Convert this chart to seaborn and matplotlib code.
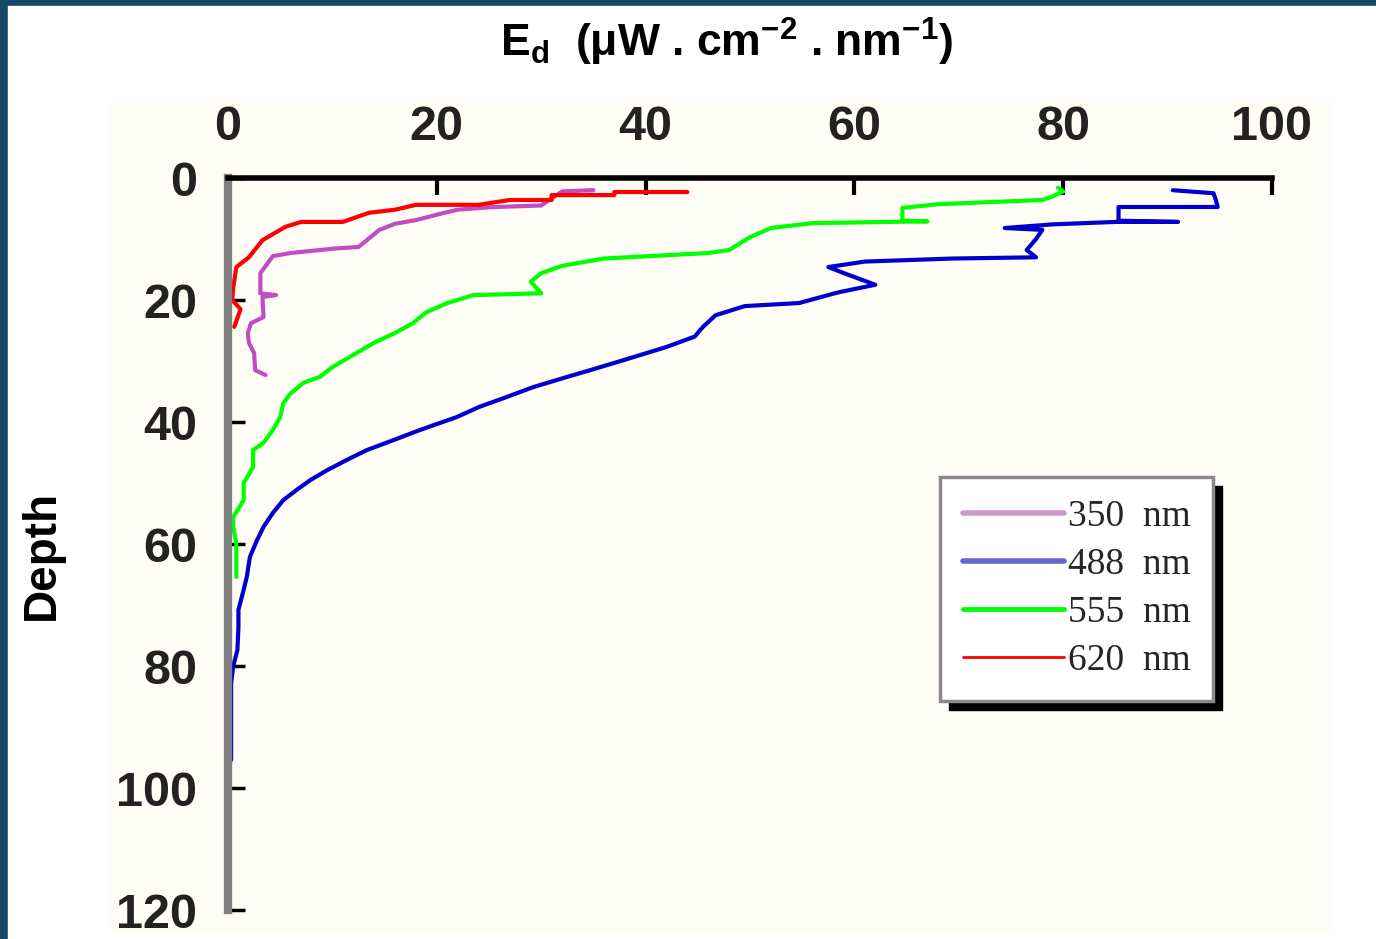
import numpy as np
import pandas as pd
import matplotlib
matplotlib.use("Agg")
import matplotlib.pyplot as plt
import seaborn as sns
from matplotlib.patches import Rectangle
from matplotlib.lines import Line2D

# values: Ed (uW cm-2 nm-1) against depth
ed_350 = [35, 32, 30, 25, 22, 20.5, 18, 16, 14.5, 13.3, 12.5, 10, 6, 4.3, 3.7, 3.1, 3.1, 4.6, 3.3, 3.4, 2.2, 1.9, 2.0, 2.5, 2.6, 3.6]
depth_350 = [2.0, 2.2, 4.5, 4.8, 5.2, 5.8, 6.9, 7.5, 8.5, 10.2, 11.3, 11.6, 12.3, 12.8, 14.2, 15.6, 18.9, 19.2, 19.5, 22.8, 23.8, 25.4, 27.0, 28.7, 31.5, 32.3]

ed_488 = [90.5, 94.4, 94.6, 94.8, 85.3, 85.3, 91, 85, 79, 74.4, 78, 77.4, 76.5, 77.4, 69.4, 61, 57.5, 59, 62, 58.6, 57.9,
          54.7, 49.5, 46.7, 45.5, 44.7, 42, 38, 34.7, 32.5, 29.2, 26.7, 24.1, 21.9, 18.4, 15.8, 13.3, 11.4, 9.5, 7.9,
          6.6, 5.3, 4.3, 3.4, 2.8, 2.1, 1.8, 1.5, 1.0, 1.0, 0.9, 0.5, 0.3, 0.3]
depth_488 = [2.0, 2.5, 3.5, 4.75, 4.75, 7.0, 7.2, 7.2, 7.6, 8.2, 8.5, 10, 11.8, 13, 13.2, 13.7, 14.6, 15.6, 17.5, 18.7, 19,
             20.5, 21, 22.5, 24.4, 26, 27.7, 29.8, 31.5, 32.6, 34.3, 35.9, 37.5, 39.2, 41.3, 43, 44.6, 46.2, 47.9, 49.5,
             51.1, 52.8, 54.9, 57.2, 59.3, 62.1, 65.4, 67.5, 70.8, 73.6, 77.4, 80, 82.8, 95.4]

ed_555 = [79.5, 80, 79, 78, 68, 64.6, 64.6, 67, 56, 52, 50, 48, 46, 36, 32, 30, 29, 30, 23.5, 21, 19, 17.7, 16, 14,
          12.3, 10, 8.8, 7.2, 6, 5.3, 5, 4.3, 3.4, 2.4, 2.4, 1.5, 1.5, 0.5, 0.5, 0.8, 0.8]
depth_555 = [1.6, 2.2, 3.0, 3.6, 4.3, 4.9, 7.0, 7.1, 7.4, 8.2, 9.7, 11.8, 12.3, 13.2, 14.4, 15.6, 17, 18.9, 19.2, 20.5,
             22, 23.8, 25.4, 27, 28.7, 31, 32.6, 33.6, 35.3, 36.9, 39.2, 41.3, 43.4, 44.6, 47.4, 50, 52.8, 55.6, 57.2,
             60, 65.4]

ed_620 = [44, 37, 37, 31, 31, 27, 24, 18, 16, 13.5, 11, 7, 5.5, 3.3, 2.0, 0.8, 0.5, 0.4, 1.2, 1.0, 0.6]
depth_620 = [2.3, 2.3, 2.8, 2.8, 3.6, 3.6, 4.4, 4.4, 5.2, 5.7, 7.2, 7.2, 8.0, 10.2, 13.0, 14.6, 18.0, 20.0, 21.5, 22.5, 24.4]

labels = ["350  nm", "488  nm", "555  nm", "620  nm"]
x_ticks = [0, 20, 40, 60, 80, 100]
y_ticks = [0, 20, 40, 60, 80, 100, 120]

series = [(ed_350, depth_350, "#c24cc2", "#cc99cc", 3.0, 4.0),
          (ed_488, depth_488, "#0000cc", "#6666cc", 3.0, 4.0),
          (ed_555, depth_555, "#00ff00", "#00ff00", 3.0, 3.5),
          (ed_620, depth_620, "#ff0000", "#ff0000", 3.0, 2.0)]

sns.set_style("white")
plt.rcParams['font.family'] = ['Liberation Sans', 'DejaVu Sans']
plt.rcParams['mathtext.default'] = 'regular'

fig = plt.figure(figsize=(13.76, 9.39), dpi=100)
W, H = 1376, 939

# slide background: dark teal frame, white page, pale cream panel
fig.patches.append(Rectangle((0, 0), 1, 1, transform=fig.transFigure, color="#134b66", zorder=-3))
fig.patches.append(Rectangle((8 / W, 0), 1, 1 - 6 / H, transform=fig.transFigure, color="white", zorder=-2.5))
fig.patches.append(Rectangle((110 / W, 1 - 932 / H), 1220 / W, 832 / H, transform=fig.transFigure,
                             color="#fffdf6", zorder=-2))

ax = fig.add_axes([228 / W, 1 - 910 / H, 1044 / W, 732 / H])
ax.set_facecolor("none")

for ed, depth, col, _, lw, _ in series:
    sns.lineplot(x=ed, y=depth, sort=False, estimator=None, color=col, lw=lw, ax=ax)

ax.set_xlim(0, 100)
ax.set_ylim(120, 0)
ax.set_xticks(x_ticks)
ax.set_yticks(y_ticks)
ax.xaxis.tick_top()
ax.tick_params(axis="x", top=True, direction="in", length=12, width=3, pad=20, labelsize=35, colors="black")
ax.tick_params(axis="y", left=True, direction="in", length=12, width=2.5, pad=22, labelsize=35, colors="black")
for t in ax.get_xticklabels() + ax.get_yticklabels():
    t.set_fontweight("bold")
    t.set_color("#222222")
ax.spines["bottom"].set_visible(False)
ax.spines["right"].set_visible(False)
ax.spines["top"].set_color("black")
ax.spines["top"].set_linewidth(4)
ax.spines["left"].set_color("#808080")
ax.spines["left"].set_linewidth(6)
ax.set_xlabel("")
ax.set_ylabel("")

handles = [Line2D([], [], color=lc, lw=llw) for _, _, _, lc, _, llw in series]
leg = ax.legend(handles, labels, loc="upper left", bbox_to_anchor=(0.682, 0.5915),
                prop={"family": "Liberation Serif", "size": 27}, frameon=True, fancybox=False,
                handlelength=2.7, handletextpad=0.1, labelspacing=0.36, borderpad=0.6,
                borderaxespad=0)
leg.get_frame().set_edgecolor("#8a8a8a")
leg.get_frame().set_linewidth(2.5)
leg.get_frame().set_facecolor("white")
leg.get_frame().set_alpha(1)

fig.text(727 / W, 1 - 42 / H, r"E$_d$  (μW . cm$^{-2}$ . nm$^{-1}$)", ha="center", va="center",
         fontsize=32, fontweight="bold", color="black")
fig.text(42 / W, 1 - 555 / H, "Depth", rotation=90, ha="center", va="center",
         fontsize=33, fontweight="bold", color="black")

# black drop shadow behind legend box
fig.canvas.draw()
bb = leg.get_window_extent()
fig.patches.append(Rectangle(((bb.x0 + 9) / W, (bb.y0 - 9) / H), bb.width / W, bb.height / H,
                             transform=fig.transFigure, color="black", zorder=-1))

fig.savefig("out.png", dpi=100)
